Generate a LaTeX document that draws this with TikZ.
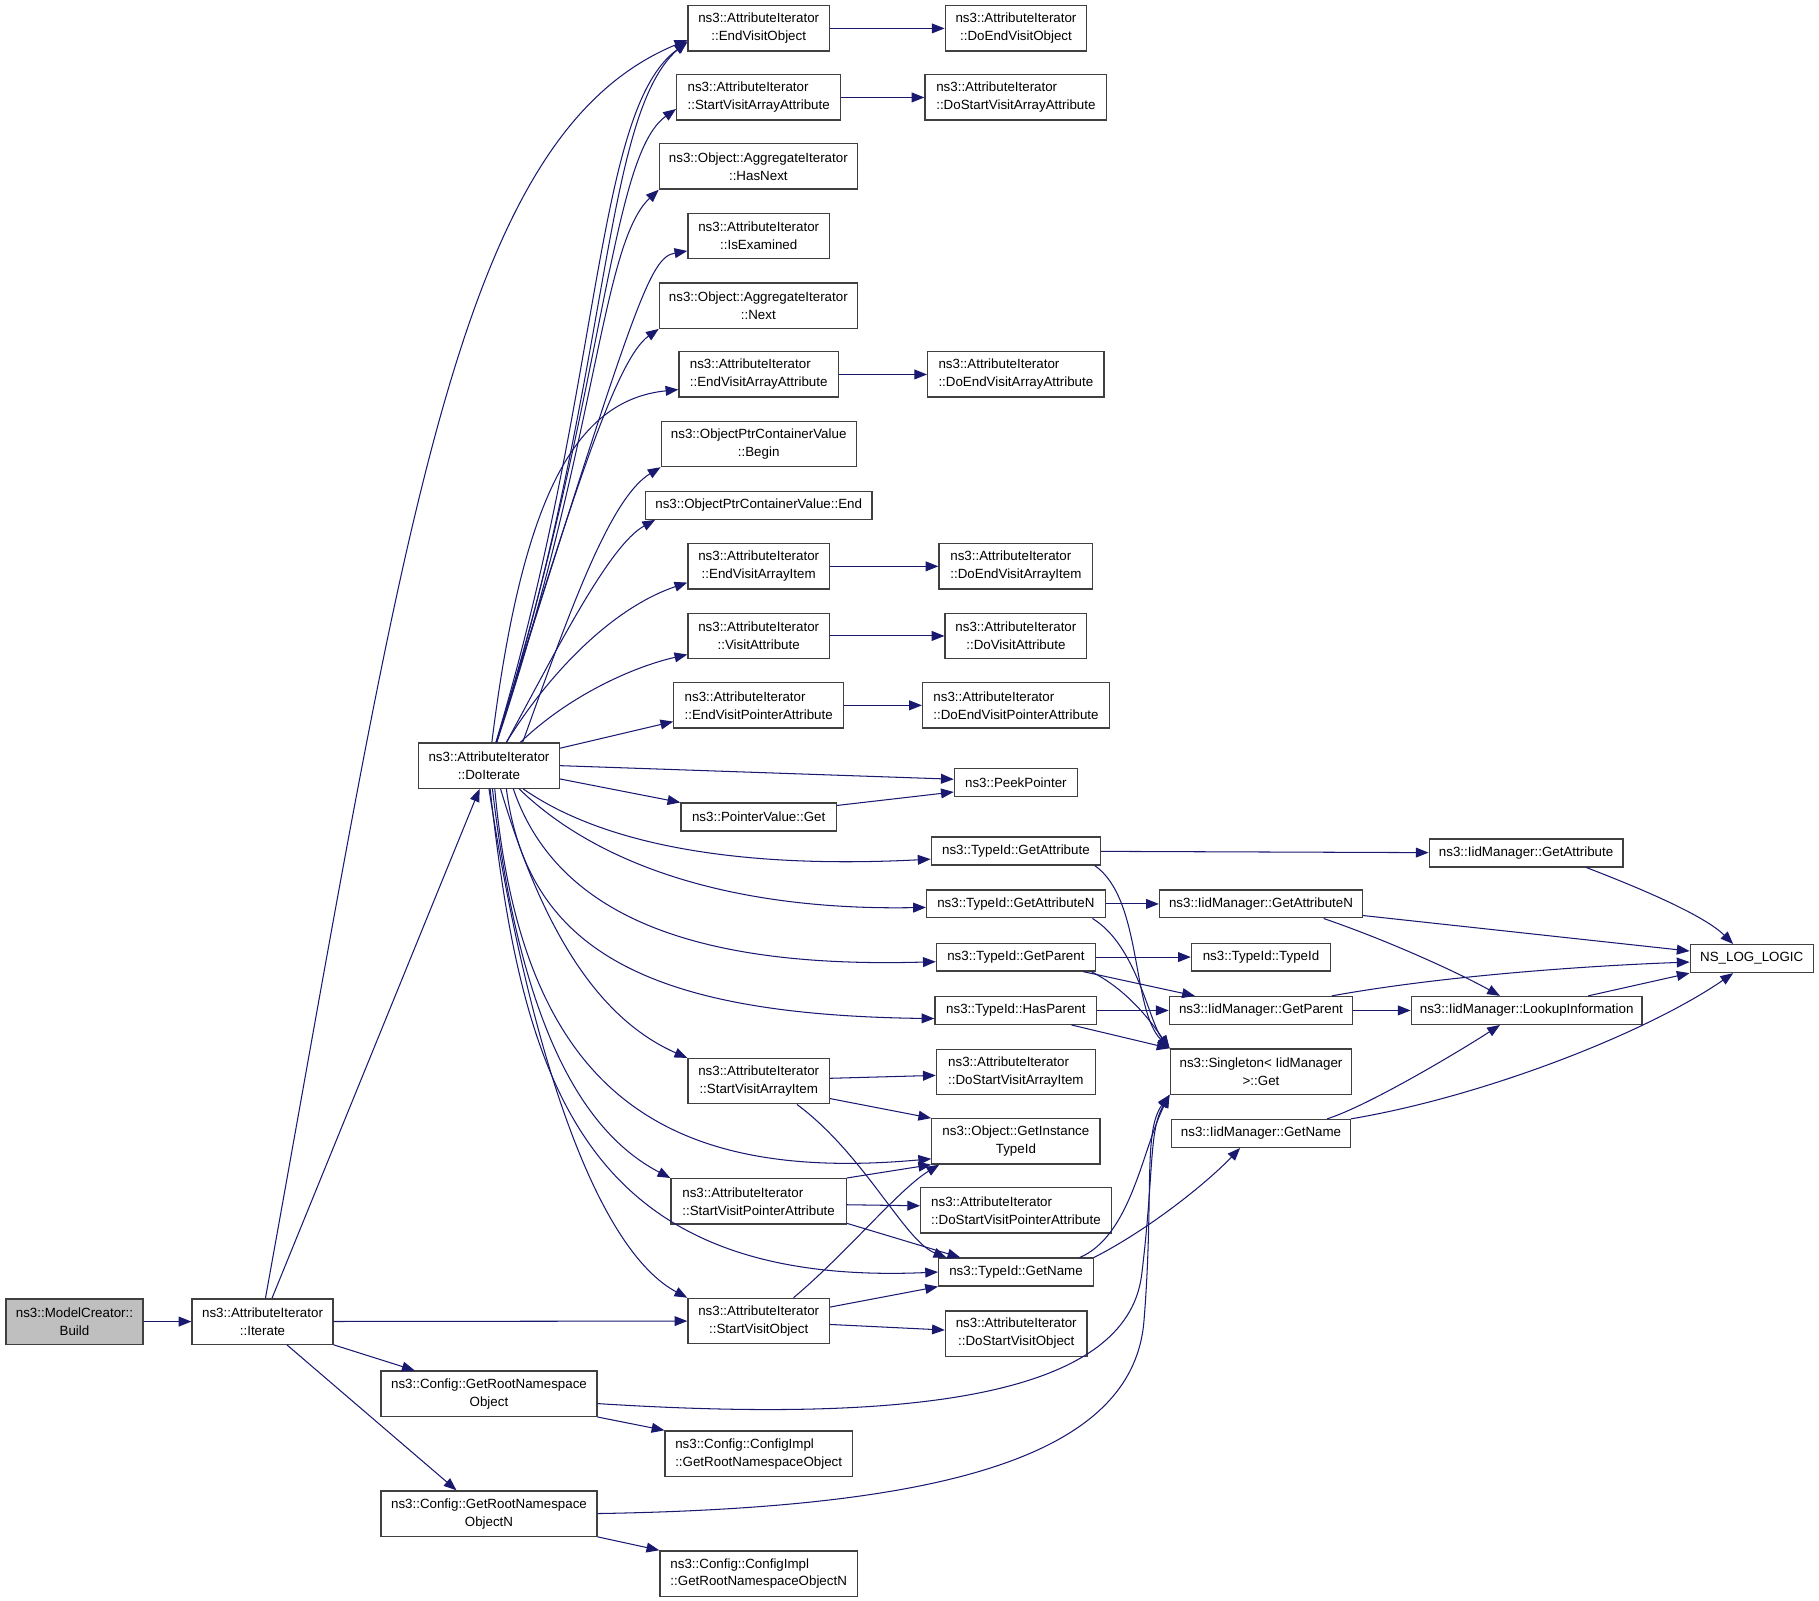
\documentclass[tikz,border=0pt]{standalone}
\usepackage{fontspec}
\setmainfont{Liberation Sans}
\usetikzlibrary{arrows.meta}
\definecolor{callblue}{HTML}{191970}
\definecolor{boxgray}{HTML}{404040}
\definecolor{rootgray}{HTML}{BFBFBF}

\begin{document}
\begin{tikzpicture}[x=1pt,y=-1pt,
  fn/.style={draw=boxgray,line width=1.1pt,fill=white,align=center,inner sep=0pt,
    minimum height=39pt,font=\fontsize{11.5}{15.5}\selectfont},
  lfn/.style={fn,align=left},
  sfn/.style={fn,minimum height=24pt},
  call/.style={draw=callblue,line width=0.9pt,-{Triangle[length=11pt,width=8.5pt]}}]
\useasboundingbox (0,0) rectangle (1568,1380);

% callers
\node[fn,fill=rootgray,minimum width=118pt] (build) at (64.2,1139.2) {ns3::ModelCreator::\\Build};
\node[fn,minimum width=121.5pt] (iterate) at (226.3,1139.2) {ns3::AttributeIterator\\::Iterate};
\node[fn,minimum width=121.5pt] (doit) at (421.5,660) {ns3::AttributeIterator\\::DoIterate};
\node[fn,minimum width=186pt] (grno) at (421.5,1201.4) {ns3::Config::GetRootNamespace\\Object};
\node[fn,minimum width=186pt] (grnon) at (421.5,1304.7) {ns3::Config::GetRootNamespace\\ObjectN};

% first column
\node[fn,minimum width=122pt] (evo) at (654,24.5) {ns3::AttributeIterator\\::EndVisitObject};
\node[lfn,minimum width=141.5pt] (svaa) at (654,84) {ns3::AttributeIterator\\::StartVisitArrayAttribute};
\node[fn,minimum width=170.6pt] (hasnext) at (653.7,143.5) {ns3::Object::AggregateIterator\\::HasNext};
\node[fn,minimum width=122pt] (isex) at (654,203.3) {ns3::AttributeIterator\\::IsExamined};
\node[fn,minimum width=170.6pt] (next) at (653.7,263.5) {ns3::Object::AggregateIterator\\::Next};
\node[lfn,minimum width=137.4pt] (evaa) at (654,322.8) {ns3::AttributeIterator\\::EndVisitArrayAttribute};
\node[fn,minimum width=168pt] (begin) at (654,382.7) {ns3::ObjectPtrContainerValue\\::Begin};
\node[sfn,minimum width=195.4pt] (ocvend) at (654,435.6) {ns3::ObjectPtrContainerValue::End};
\node[fn,minimum width=122pt] (evai) at (654,488.2) {ns3::AttributeIterator\\::EndVisitArrayItem};
\node[fn,minimum width=122pt] (va) at (654,548.2) {ns3::AttributeIterator\\::VisitAttribute};
\node[lfn,minimum width=146.3pt] (evpa) at (654,608) {ns3::AttributeIterator\\::EndVisitPointerAttribute};
\node[sfn,minimum width=134pt] (pvg) at (654,704.3) {ns3::PointerValue::Get};
\node[fn,minimum width=122pt] (svai) at (654,932) {ns3::AttributeIterator\\::StartVisitArrayItem};
\node[lfn,minimum width=151pt] (svpa) at (653.9,1035.5) {ns3::AttributeIterator\\::StartVisitPointerAttribute};
\node[fn,minimum width=122pt] (svo) at (654,1138.7) {ns3::AttributeIterator\\::StartVisitObject};
\node[lfn,minimum width=161.4pt] (cigrno) at (654,1253) {ns3::Config::ConfigImpl\\::GetRootNamespaceObject};
\node[lfn,minimum width=170.3pt] (cigrnon) at (654,1356.4) {ns3::Config::ConfigImpl\\::GetRootNamespaceObjectN};

% second column
\node[fn,minimum width=122pt] (devo) at (875.8,24.5) {ns3::AttributeIterator\\::DoEndVisitObject};
\node[lfn,minimum width=156.7pt] (dsvaa) at (875.7,84) {ns3::AttributeIterator\\::DoStartVisitArrayAttribute};
\node[lfn,minimum width=152pt] (devaa) at (875.7,322.8) {ns3::AttributeIterator\\::DoEndVisitArrayAttribute};
\node[lfn,minimum width=132.5pt] (devai) at (875.7,488.2) {ns3::AttributeIterator\\::DoEndVisitArrayItem};
\node[fn,minimum width=122pt] (dva) at (875.7,548.2) {ns3::AttributeIterator\\::DoVisitAttribute};
\node[lfn,minimum width=161pt] (devpa) at (875.8,608) {ns3::AttributeIterator\\::DoEndVisitPointerAttribute};
\node[sfn,minimum width=106pt] (peek) at (875.7,674.7) {ns3::PeekPointer};
\node[sfn,minimum width=146pt] (tga) at (875.7,733.6) {ns3::TypeId::GetAttribute};
\node[sfn,minimum width=154pt] (tgan) at (875.7,779.2) {ns3::TypeId::GetAttributeN};
\node[sfn,minimum width=137pt] (tgp) at (875.7,825) {ns3::TypeId::GetParent};
\node[sfn,minimum width=139.5pt] (thp) at (875.7,871) {ns3::TypeId::HasParent};
\node[lfn,minimum width=137pt] (dsvai) at (875.7,924) {ns3::AttributeIterator\\::DoStartVisitArrayItem};
\node[fn,minimum width=145pt] (git) at (875.7,983.9) {ns3::Object::GetInstance\\TypeId};
\node[lfn,minimum width=164.3pt] (dsvpa) at (875.8,1043.4) {ns3::AttributeIterator\\::DoStartVisitPointerAttribute};
\node[sfn,minimum width=133.3pt] (tgn) at (875.8,1096.5) {ns3::TypeId::GetName};
\node[fn,minimum width=122pt] (dsvo) at (876,1149.5) {ns3::AttributeIterator\\::DoStartVisitObject};

% third column and beyond
\node[sfn,minimum width=175pt] (igan) at (1087,779.2) {ns3::IidManager::GetAttributeN};
\node[sfn,minimum width=120pt] (tti) at (1087,825) {ns3::TypeId::TypeId};
\node[sfn,minimum width=158pt] (igp) at (1087,871) {ns3::IidManager::GetParent};
\node[fn,minimum width=156.6pt] (sing) at (1087,923.7) {ns3::Singleton< IidManager\\>::Get};
\node[sfn,minimum width=154pt] (ign) at (1087,977) {ns3::IidManager::GetName};
\node[sfn,minimum width=167pt] (iga) at (1315.5,735.3) {ns3::IidManager::GetAttribute};
\node[sfn,minimum width=199pt] (lookup) at (1316,871) {ns3::IidManager::LookupInformation};
\node[sfn,minimum width=106pt] (nll) at (1510,826.3) {NS\_LOG\_LOGIC};

% Iterate and Build
\draw[call] (build) -- (iterate);
\draw[call] (iterate) -- (doit);
\draw[call] ([xshift=2.5pt]iterate.north) .. controls (350,450) and (393,117) .. ([yshift=-10pt]evo.west);
\draw[call] (iterate) -- (svo);
\draw[call] (iterate.south east) -- ([xshift=-64pt]grno.north);
\draw[call] ([xshift=21pt]iterate.south) -- ([xshift=-28pt]grnon.north);
\draw[call] (grno.south east) -- (cigrno.north west);
\draw[call] (grnon.south east) -- (cigrnon.north west);
\draw[call] ([yshift=-8.5pt]grno.east) .. controls (800,1228) and (970,1200) .. (984,1100)
  .. controls (995,1010) and (990,975) .. (sing.south west);
\draw[call] (grnon.east) .. controls (800,1300) and (975,1260) .. (986,1140)
  .. controls (995,1030) and (985,975) .. (sing.south west);

% DoIterate, upwards
\draw[call] (doit) .. controls (520,330) and (512,95) .. ([yshift=-12pt]evo.west);
\draw[call] (doit) .. controls (527,330) and (518,100) .. ([yshift=-11pt]evo.west);
\draw[call] (doit) .. controls (522,340) and (525,135) .. ([yshift=-10pt]svaa.west);
\draw[call] (doit) .. controls (515,380) and (518,210) .. (hasnext.south west);
\draw[call] (doit) .. controls (548,258) and (560,222) .. ([yshift=-13pt]isex.west);
\draw[call] (doit) .. controls (490,440) and (530,310) .. (next.south west);
\draw[call] (doit) .. controls (450,430) and (495,345) .. ([yshift=-13pt]evaa.west);
\draw[call] ([xshift=29pt]doit.north) .. controls (490,530) and (525,430) .. (begin.south west);
\draw[call] ([xshift=15pt]doit.north) .. controls (480,560) and (525,470) .. ([xshift=9pt]ocvend.south west);
\draw[call] ([xshift=15pt]doit.north) .. controls (470,585) and (525,525) .. ([yshift=-14pt]evai.west);
\draw[call] ([xshift=27pt]doit.north) .. controls (490,600) and (545,575) .. ([yshift=-16pt]va.west);
\draw[call] ([yshift=-5pt]doit.north east) -- ([yshift=-14pt]evpa.west);
\draw[call] (doit.east) -- ([yshift=3pt]peek.west);
\draw[call] ([yshift=-11.5pt]doit.east) -- (pvg.north west);
\draw[call] ([yshift=10pt]pvg.east) -- ([yshift=-8pt]peek.west);

% DoIterate, downwards
\draw[call] ([xshift=29.5pt]doit.south) .. controls (530,735) and (660,748) .. ([yshift=-7pt]tga.west);
\draw[call] ([xshift=26pt]doit.south) .. controls (520,750) and (640,785) .. ([yshift=-3pt]tgan.west);
\draw[call] ([xshift=21pt]doit.south) .. controls (480,790) and (600,835) .. ([yshift=-4pt]tgp.west);
\draw[call] ([xshift=15pt]doit.south) .. controls (455,820) and (560,875) .. ([yshift=-7pt]thp.west);
\draw[call] ([xshift=10pt]doit.south) .. controls (470,810) and (520,880) .. (svai.north west);
\draw[call] ([xshift=5pt]doit.south) .. controls (450,940) and (570,1020) .. ([yshift=-15pt]git.west);
\draw[call] ([xshift=3pt]doit.south) .. controls (450,900) and (510,980) .. (svpa.north west);
\draw[call] ([xshift=1pt]doit.south) .. controls (450,930) and (500,1110) .. (tgn.west);
\draw[call] (doit.south) .. controls (460,930) and (520,1080) .. (svo.north west);

% first column to second column
\draw[call] (evo) -- (devo);
\draw[call] (svaa) -- (dsvaa);
\draw[call] (evaa) -- (devaa);
\draw[call] (evai) -- (devai);
\draw[call] (va) -- (dva);
\draw[call] (evpa) -- (devpa);
\draw[call] ([yshift=2.5pt]svai.east) -- ([yshift=-3pt]dsvai.west);
\draw[call] ([yshift=-15pt]svai.east) -- (git.north west);
\draw[call] ([xshift=33pt]svai.south) .. controls (745,995) and (780,1070) .. ([xshift=-60pt]tgn.north);
\draw[call] (svpa.north east) -- (git.south west);
\draw[call] ([yshift=-3pt]svpa.east) -- ([yshift=4pt]dsvpa.west);
\draw[call] ([yshift=-19pt]svpa.east) -- ([xshift=-48pt]tgn.north);
\draw[call] ([xshift=30pt]svo.north) .. controls (730,1080) and (775,1025) .. ([xshift=7pt]git.south west);
\draw[call] ([yshift=12pt]svo.east) -- (tgn.south west);
\draw[call] ([yshift=-3pt]svo.east) -- ([yshift=3pt]dsvo.west);

% TypeId calls
\draw[call] (tga) -- (iga);
\draw[call] ([xshift=68pt]tga.south) .. controls (985,775) and (975,870) .. (sing.north west);
\draw[call] (tgan) -- (igan);
\draw[call] ([xshift=66pt]tgan.south) .. controls (980,815) and (990,880) .. (sing.north west);
\draw[call] (tgp) -- (tti);
\draw[call] ([xshift=58pt]tgp.south) -- ([xshift=-57pt]igp.north);
\draw[call] ([xshift=65pt]tgp.south) .. controls (975,855) and (995,885) .. (sing.north west);
\draw[call] (thp) -- (igp);
\draw[call] ([xshift=48pt]thp.south) -- (sing.north west);
\draw[call] ([xshift=55pt]tgn.north) .. controls (975,1065) and (985,990) .. (sing.south west);
\draw[call] (tgn.north east) .. controls (990,1060) and (1040,1020) .. ([xshift=-18pt]ign.south);

% IidManager calls
\draw[call] ([yshift=-10pt]igan.east) -- ([yshift=6.5pt]nll.west);
\draw[call] ([xshift=54pt]igan.south) .. controls (1200,812) and (1260,840) .. ([xshift=-23pt]lookup.north);
\draw[call] (igp) -- (lookup);
\draw[call] ([xshift=61pt]igp.north) .. controls (1250,840) and (1380,832) .. ([yshift=-3pt]nll.west);
\draw[call] ([xshift=53pt]lookup.north) -- (nll.south west);
\draw[call] ([xshift=52pt]iga.south) .. controls (1420,768) and (1470,790) .. ([xshift=-16pt]nll.north);
\draw[call] ([xshift=57pt]ign.north) .. controls (1180,953) and (1260,905) .. ([xshift=-23pt]lookup.south);
\draw[call] (ign.north east) .. controls (1280,945) and (1420,890) .. ([xshift=-16pt]nll.south);
\end{tikzpicture}
\end{document}
